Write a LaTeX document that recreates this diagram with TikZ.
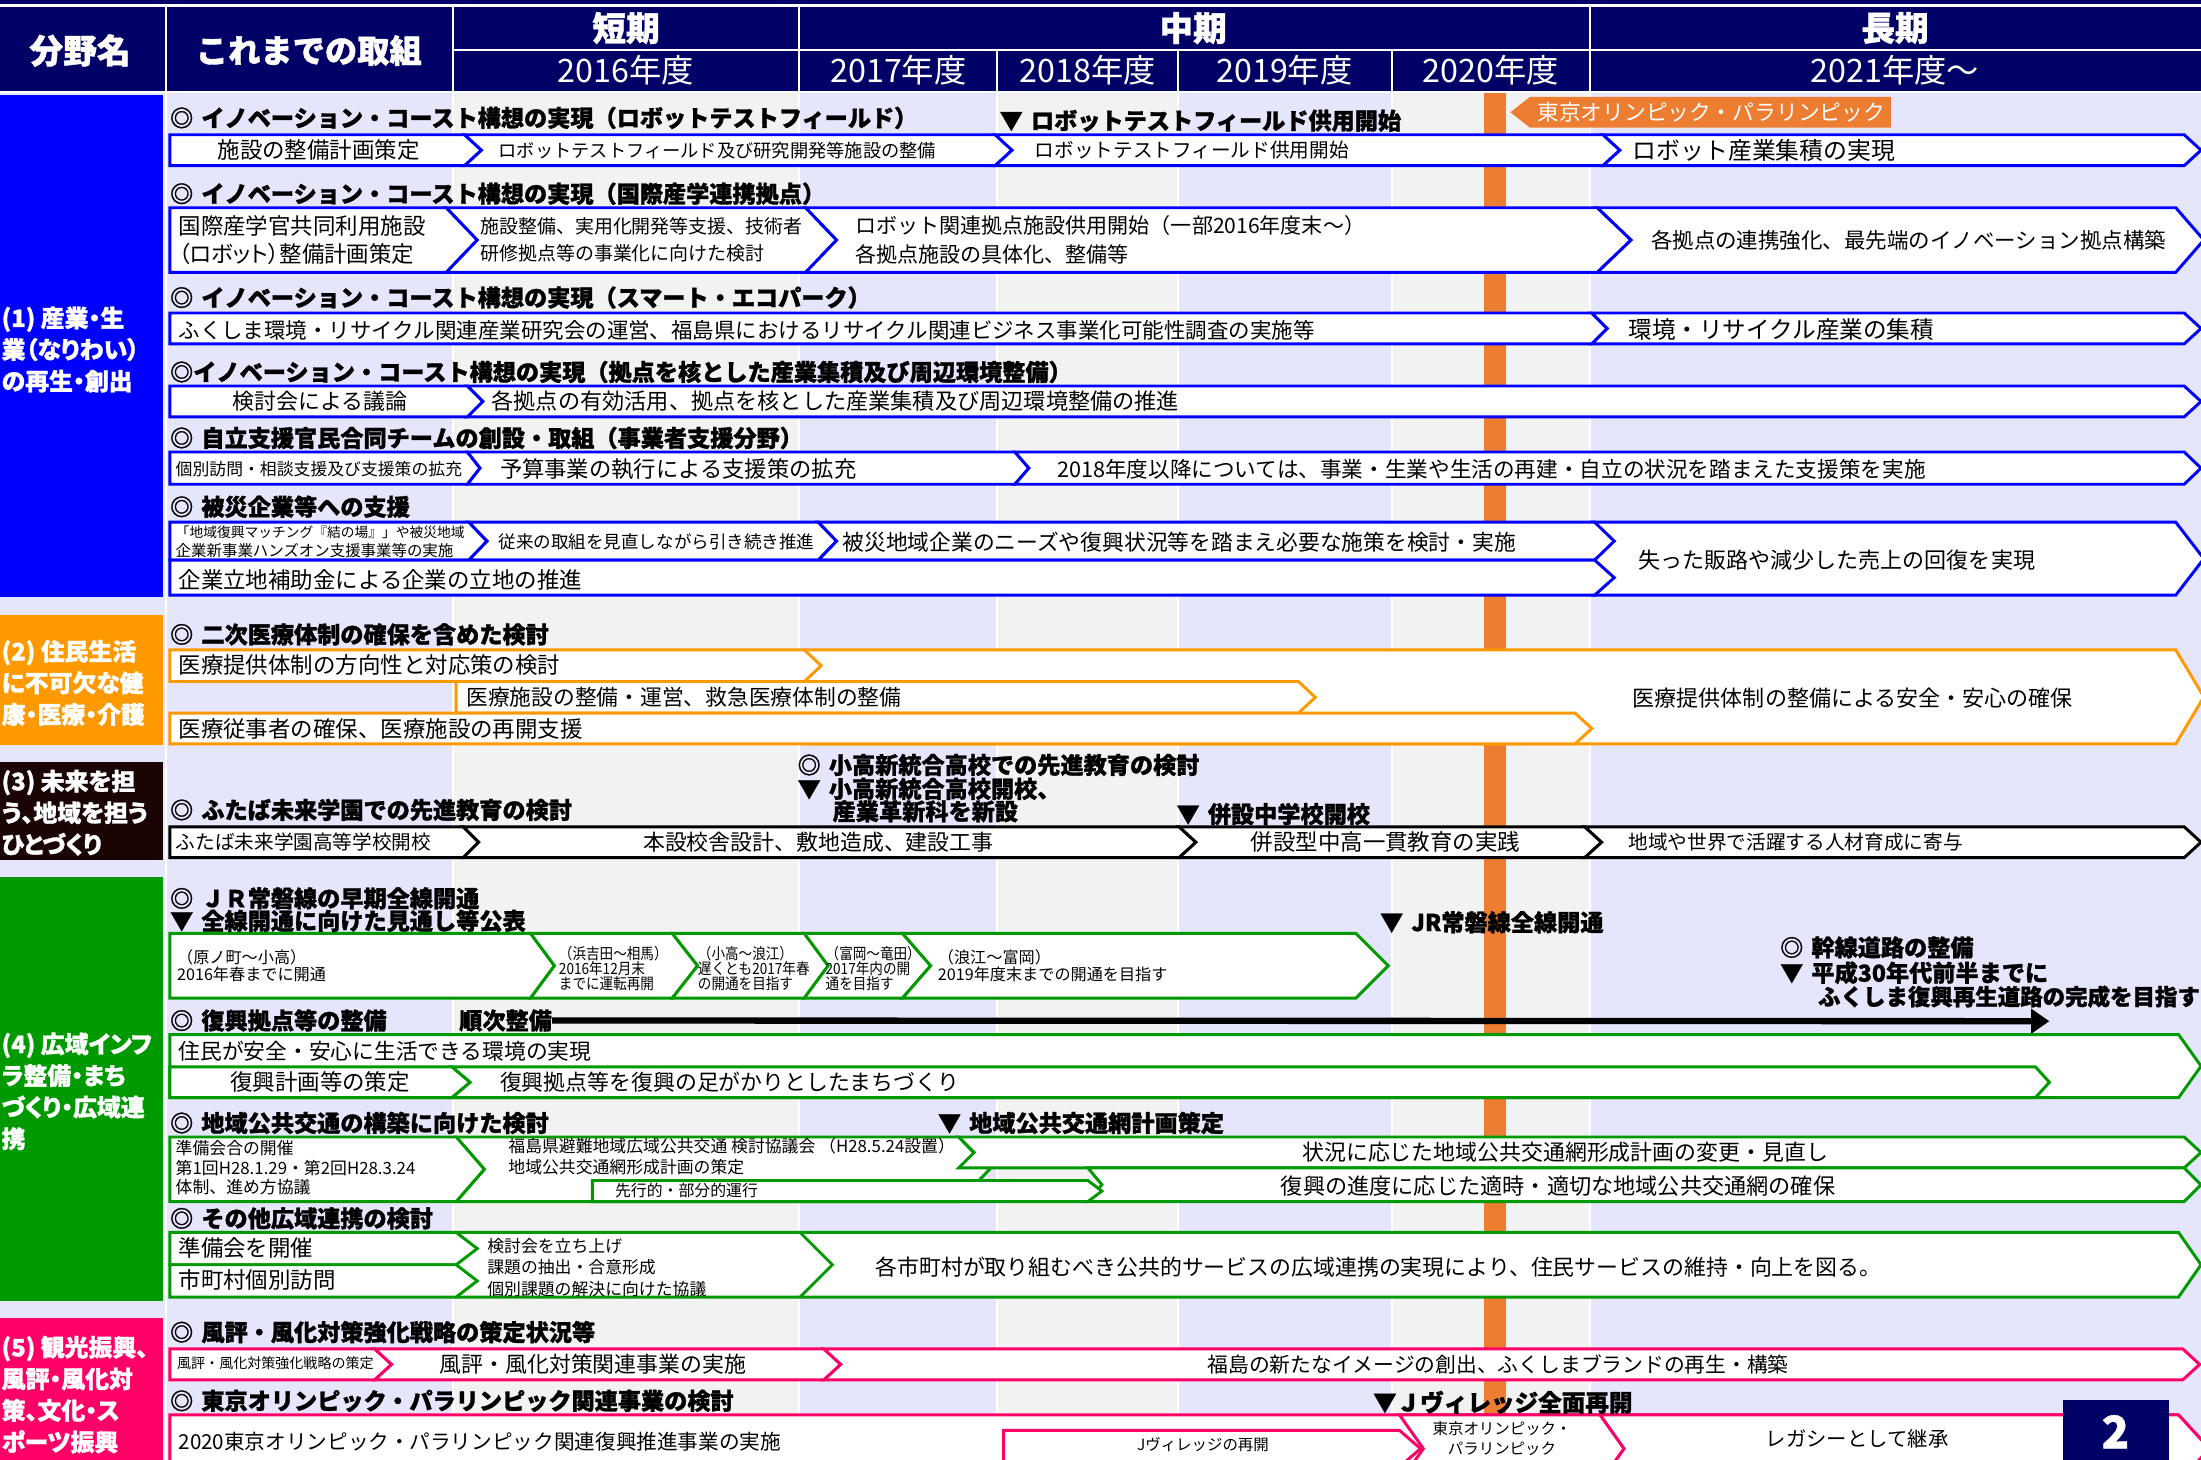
\documentclass[tikz,border=0pt]{standalone}
\usepackage{fontspec}
\setmainfont{Noto Sans CJK JP}[BoldFeatures={FakeBold=1.2}]
\newfontfamily\jpn{Noto Sans CJK JP}[FakeStretch=0.88]
\newfontfamily\jpp{Noto Sans CJK JP}[RawFeature=+palt,BoldFeatures={FakeBold=1.2}]
\usetikzlibrary{arrows.meta}
\definecolor{navy}{RGB}{0,0,102}
\definecolor{lav}{RGB}{229,229,252}
\definecolor{gry}{RGB}{242,242,242}
\definecolor{cblue}{RGB}{0,0,255}
\definecolor{corange}{RGB}{255,153,0}
\definecolor{cdark}{RGB}{26,4,4}
\definecolor{cgreen}{RGB}{0,153,0}
\definecolor{cpink}{RGB}{255,0,102}
\definecolor{olym}{RGB}{237,125,49}
\newcommand\fsz[1]{\fontsize{#1pt}{#1pt}\selectfont}
\newcommand\fszl[2]{\fontsize{#1pt}{#2pt}\selectfont}
\newcommand\dmk{◎\hspace{.35em}}
\newcommand\tmk{▼\hspace{.35em}}
% x0 x1 ytop ybot colour leftdepth rightdepth
\newcommand\chv[7]{\draw[cbox,draw=#5] (#1,#3) -- (#2,#3) -- ({#2+#7},{(#3+#4)/2}) -- (#2,#4) -- (#1,#4) -- ({#1+#6},{(#3+#4)/2}) -- cycle;}
\tikzset{
  cbox/.style={fill=white,line width=2.1pt,line join=miter},
  hd/.style={anchor=west,inner sep=0pt,font=\bfseries\fsz{16.5}},
  tx/.style={anchor=west,inner sep=0pt},
  tc/.style={anchor=center,inner sep=0pt},
  ml/.style={anchor=west,inner sep=0pt,align=left},
  cat/.style={anchor=west,inner sep=0pt,align=left,text=white,font=\jpp\bfseries\fszl{17}{22.5}},
  hw/.style={inner sep=0pt,text=white,font=\bfseries\fsz{24}},
  hy/.style={inner sep=0pt,text=white,font=\fsz{23}},
  sep/.style={white,line width=1.5pt}
}
\begin{document}
\begin{tikzpicture}[x=1pt,y=-1pt]
\useasboundingbox (0,0) rectangle (1568,1040);
\clip (0,0) rectangle (1568,1040);
% body background
\fill[lav] (0,66) rectangle (1568,1040);
\fill[gry] (323,66) rectangle (569,1040);
\fill[gry] (711,66) rectangle (839,1040);
\fill[gry] (992,66) rectangle (1132,1040);
\draw[sep] (118,66)--(118,1040) (322.5,66)--(322.5,1040) (569.5,66)--(569.5,1040) (710.5,66)--(710.5,1040) (839.5,66)--(839.5,1040) (991.5,66)--(991.5,1040) (1132.5,66)--(1132.5,1040);
% header
\fill[navy] (0,0) rectangle (1568,3);
\fill[navy] (0,5) rectangle (1568,65);
\draw[sep] (118.5,5)--(118.5,65) (322.5,5)--(322.5,65) (569.5,5)--(569.5,65) (1132.5,5)--(1132.5,65) (322.5,35.5)--(1568,35.5) (710.5,35.5)--(710.5,65) (839.5,35.5)--(839.5,65) (991.5,35.5)--(991.5,65);
\node[hw] (hA) at (57,36) {分野名};
\node[hw,font=\bfseries\fsz{23}] (hB) at (220,36) {これまでの取組};
\node[hw] (hS) at (446,20) {短期};
\node[hw] (hM) at (850,20) {中期};
\node[hw] (hL) at (1350,20) {長期};
\node[hy] (y16) at (446,50) {2016年度};
\node[hy] (y17) at (640,50) {2017年度};
\node[hy] (y18) at (775,50) {2018年度};
\node[hy] (y19) at (915,50) {2019年度};
\node[hy] (y20) at (1062,50) {2020年度};
\node[hy] (y21) at (1350,50) {2021年度～};
% category blocks
\fill[cblue] (0,68) rectangle (116,425);
\fill[corange] (0,438) rectangle (116,531);
\fill[cdark] (0,543) rectangle (116,613);
\fill[cgreen] (0,625) rectangle (116,927);
\fill[cpink] (0,939) rectangle (116,1040);
\node[cat] (c1) at (1,249) {(1) 産業・生\\業（なりわい）\\の再生・創出};
\node[cat] (c2) at (1,486.5) {(2) 住民生活\\に不可欠な健\\康・医療・介護};
\node[cat] (c3) at (1,579) {(3) 未来を担\\う、地域を担う\\ひとづくり};
\node[cat] (c4) at (1,777.5) {(4) 広域インフ\\ラ整備・まち\\づくり・広域連\\携};
\node[cat] (c5) at (1,993.5) {(5) 観光振興、\\風評・風化対\\策、文化・ス\\ポーツ振興};
% Olympic bar
\fill[olym] (1057,66) rectangle (1073,1040);
% ===== (1) =====
\chv{121}{331}{96}{118}{cblue}{0}{12}
\chv{331}{709}{96}{118}{cblue}{12}{12}
\chv{709}{1142}{96}{118}{cblue}{12}{12}
\chv{1142}{1556}{96}{118}{cblue}{12}{12}
\chv{121}{318}{148}{194}{cblue}{0}{22}
\chv{318}{574}{148}{194}{cblue}{22}{22}
\chv{574}{1138}{148}{194}{cblue}{22}{24}
\chv{1138}{1550}{148}{194}{cblue}{24}{20}
\chv{121}{1134}{223}{245}{cblue}{0}{11}
\chv{1134}{1556}{223}{245}{cblue}{11}{12}
\chv{121}{333}{275}{297}{cblue}{0}{11}
\chv{333}{1556}{275}{297}{cblue}{11}{12}
\chv{121}{333}{322}{345}{cblue}{0}{9}
\chv{333}{723}{322}{345}{cblue}{9}{10}
\chv{723}{1556}{322}{345}{cblue}{10}{12}
\chv{1134}{1550}{372}{424}{cblue}{0}{20}
\chv{121}{334}{372}{399}{cblue}{0}{13}
\chv{334}{583}{372}{399}{cblue}{13}{13}
\chv{583}{1136}{372}{399}{cblue}{13}{14}
\chv{121}{1136}{399}{424}{cblue}{0}{14}
% ===== (2) =====
\chv{573}{1550}{463}{530}{corange}{0}{20}
\chv{121}{573}{463}{485.5}{corange}{0}{12}
\chv{325}{925}{485.5}{508}{corange}{0}{12}
\chv{121}{1122}{508}{530}{corange}{0}{12}
% ===== (3) =====
\chv{121}{330}{589}{611}{black}{0}{11}
\chv{330}{840}{589}{611}{black}{11}{12}
\chv{840}{1129}{589}{611}{black}{12}{12}
\chv{1129}{1556}{589}{611}{black}{12}{12}
% ===== (4) =====
\chv{121}{378}{665}{711}{cgreen}{0}{17}
\chv{378}{479}{665}{711}{cgreen}{17}{18}
\chv{479}{573}{665}{711}{cgreen}{18}{17}
\chv{573}{643}{665}{711}{cgreen}{17}{20}
\chv{643}{966}{665}{711}{cgreen}{20}{23}
\chv{121}{1552}{737}{782}{cgreen}{0}{16}
\chv{121}{322}{760}{782}{cgreen}{0}{13}
\chv{322}{1450}{760}{782}{cgreen}{13}{10}
\chv{325}{683}{810}{856}{cgreen}{20}{22}
\chv{683}{1556}{810}{832}{cgreen}{11}{12}
\chv{775}{1556}{832}{856}{cgreen}{10}{12}
\chv{121}{325}{810}{856}{cgreen}{0}{20}
\chv{422}{775}{841}{856}{cgreen}{0}{10}
\chv{570}{1552}{878}{924}{cgreen}{0}{16}
\chv{325}{570}{878}{924}{cgreen}{0}{23}
\chv{121}{325}{878}{901}{cgreen}{0}{15}
\chv{121}{325}{901}{924}{cgreen}{0}{15}
% ===== (5) =====
\chv{121}{267}{961}{983}{cpink}{0}{12}
\chv{267}{587}{961}{983}{cpink}{12}{12}
\chv{587}{1555}{961}{983}{cpink}{12}{12}
\chv{121}{1552}{1008}{1056}{cpink}{0}{22}
\chv{715}{997}{1019}{1045}{cpink}{0}{15}
\chv{997}{1140}{1008}{1056}{cpink}{17}{17}
\chv{1140}{1552}{1008}{1056}{cpink}{17}{22}
% Olympic label
\fill[olym] (1076,80) -- (1090,69) -- (1347,69) -- (1347,91) -- (1090,91) -- cycle;
\node[tx,text=white,font=\fsz{15.5}] (olyl) at (1095,80) {東京オリンピック・パラリンピック};
% ===== texts (1) =====
\node[hd] (h1) at (121,84) {\dmk イノベーション・コースト構想の実現（ロボットテストフィールド）};
\node[hd] (h2) at (712,86) {\tmk ロボットテストフィールド供用開始};
\node[tc,font=\fsz{16}] (a1) at (227,107) {施設の整備計画策定};
\node[tx,font=\fsz{13}] (a2) at (355,107) {ロボットテストフィールド及び研究開発等施設の整備};
\node[tx,font=\fsz{14}] (a3) at (737,107) {ロボットテストフィールド供用開始};
\node[tx,font=\fsz{17}] (a4) at (1163,107) {ロボット産業集積の実現};
\node[hd] (h3) at (121,138) {\dmk イノベーション・コースト構想の実現（国際産学連携拠点）};
\node[ml,font=\jpp\fszl{16}{20.5}] (b1) at (127,171) {国際産学官共同利用施設\\（ロボット）整備計画策定};
\node[ml,font=\fszl{13.5}{19}] (b2) at (342,171) {施設整備、実用化開発等支援、技術者\\研修拠点等の事業化に向けた検討};
\node[ml,font=\fszl{15}{21}] (b3) at (609,171) {ロボット関連拠点施設供用開始（一部2016年度末～）\\各拠点施設の具体化、整備等};
\node[tx,font=\fsz{15.3}] (b4) at (1176,171) {各拠点の連携強化、最先端のイノベーション拠点構築};
\node[hd] (h4) at (121,212) {\dmk イノベーション・コースト構想の実現（スマート・エコパーク）};
\node[tx,font=\fsz{15.3}] (cc1) at (127,235) {ふくしま環境・リサイクル関連産業研究会の運営、福島県におけるリサイクル関連ビジネス事業化可能性調査の実施等};
\node[tx,font=\fsz{16.8}] (cc2) at (1160,235) {環境・リサイクル産業の集積};
\node[hd] (h5) at (121,265) {◎イノベーション・コースト構想の実現（拠点を核とした産業集積及び周辺環境整備）};
\node[tc,font=\fsz{15.6}] (d1) at (228,286) {検討会による議論};
\node[tx,font=\fsz{15.8}] (d2) at (350,286) {各拠点の有効活用、拠点を核とした産業集積及び周辺環境整備の推進};
\node[hd] (h6) at (121,312) {\dmk 自立支援官民合同チームの創設・取組（事業者支援分野）};
\node[tx,font=\fsz{12}] (e1) at (125,334) {個別訪問・相談支援及び支援策の拡充};
\node[tx,font=\fsz{15.9}] (e2) at (356,334) {予算事業の執行による支援策の拡充};
\node[tx,font=\fsz{15.4}] (e3) at (753,334) {2018年度以降については、事業・生業や生活の再建・自立の状況を踏まえた支援策を実施};
\node[hd] (h7) at (121,361) {\dmk 被災企業等への支援};
\node[ml,font=\fszl{9.8}{13}] (f1) at (125,386) {「地域復興マッチング『結の場』」や被災地域\\{\fsz{11}企業新事業ハンズオン支援事業等の実施}};
\node[tx,font=\fsz{12.5}] (f2) at (355,386) {従来の取組を見直しながら引き続き推進};
\node[tx,font=\fsz{15.5}] (f3) at (600,386) {被災地域企業のニーズや復興状況等を踏まえ必要な施策を検討・実施};
\node[tx,font=\fsz{16}] (f4) at (127,413) {企業立地補助金による企業の立地の推進};
\node[tx,font=\fsz{15.7}] (f5) at (1167,399) {失った販路や減少した売上の回復を実現};
% ===== texts (2) =====
\node[hd] (h8) at (121,452) {\dmk 二次医療体制の確保を含めた検討};
\node[tx,font=\fsz{16}] (g1) at (127,474) {医療提供体制の方向性と対応策の検討};
\node[tx,font=\fsz{15.5}] (g2) at (332,497) {医療施設の整備・運営、救急医療体制の整備};
\node[tx,font=\fsz{16}] (g3) at (127,519) {医療従事者の確保、医療施設の再開支援};
\node[tx,font=\fsz{15.7}] (g4) at (1163,497) {医療提供体制の整備による安全・安心の確保};
% ===== texts (3) =====
\node[hd] (h9) at (568,545) {\dmk 小高新統合高校での先進教育の検討};
\node[hd] (h10) at (568,562) {\tmk 小高新統合高校開校、};
\node[hd] (h11) at (593,578) {産業革新科を新設};
\node[hd] (h12) at (121,577) {\dmk ふたば未来学園での先進教育の検討};
\node[hd] (h13) at (838,580) {\tmk 併設中学校開校};
\node[tx,font=\fsz{14}] (i1) at (125,600) {ふたば未来学園高等学校開校};
\node[tc,font=\fsz{15.6}] (i2) at (583,600) {本設校舎設計、敷地造成、建設工事};
\node[tc,font=\fsz{16}] (i3) at (987,600) {併設型中高一貫教育の実践};
\node[tx,font=\fsz{14}] (i4) at (1160,600) {地域や世界で活躍する人材育成に寄与};
% ===== texts (4) =====
\node[hd] (h14) at (121,640) {\dmk ＪＲ常磐線の早期全線開通};
\node[hd] (h15) at (121,656) {\tmk 全線開通に向けた見通し等公表};
\node[hd] (h16) at (983,657) {\tmk JR常磐線全線開通};
\node[hd] (h17) at (1268,675) {\dmk 幹線道路の整備};
\node[hd] (h18) at (1268,693) {\tmk 平成30年代前半までに};
\node[hd,font=\bfseries\fsz{16}] (h19) at (1295,710) {ふくしま復興再生道路の完成を目指す};
\node[ml,font=\fszl{11.5}{11.5}] (j1) at (126,688) {（原ノ町～小高）\\2016年春までに開通};
\node[ml,font=\jpn\fszl{11}{11}] (j2) at (398,690) {（浜吉田～相馬）\\2016年12月末\\までに運転再開};
\node[ml,font=\jpn\fszl{11}{11}] (j3) at (497,690) {（小高～浪江）\\遅くとも2017年春\\の開通を目指す};
\node[ml,font=\jpn\fszl{11}{11}] (j4) at (588,690) {（富岡～竜田）\\2017年内の開\\通を目指す};
\node[ml,font=\fszl{11.5}{11.5}] (j5) at (668,688) {（浪江～富岡）\\2019年度末までの開通を目指す};
\node[hd] (h20) at (121,727) {\dmk 復興拠点等の整備};
\node[hd] (h21) at (327,727) {順次整備};
\coordinate (arrEnd) at (1460,727.5);
\draw[line width=4.5pt,-{Triangle[length=13pt,width=17pt]}] (h21.east) -- (arrEnd);
\node[tx,font=\fsz{15.5}] (k1) at (127,749) {住民が安全・安心に生活できる環境の実現};
\node[tc,font=\fsz{16}] (k2) at (228,771) {復興計画等の策定};
\node[tx,font=\fsz{15.6}] (k3) at (356,771) {復興拠点等を復興の足がかりとしたまちづくり};
\node[hd] (h22) at (121,800) {\dmk 地域公共交通の構築に向けた検討};
\node[hd] (h23) at (668,800) {\tmk 地域公共交通網計画策定};
\node[ml,font=\fszl{12}{14}] (l1) at (125,832) {準備会合の開催\\第1回H28.1.29・第2回H28.3.24\\体制、進め方協議};
\node[ml,font=\fszl{12}{15}] (l2) at (362,824) {福島県避難地域広域公共交通 検討協議会 （H28.5.24設置）\\地域公共交通網形成計画の策定};
\node[tx,font=\fsz{11.3}] (l3) at (438,848) {先行的・部分的運行};
\node[tc,font=\fsz{15.6}] (l4) at (1115,821) {状況に応じた地域公共交通網形成計画の変更・見直し};
\node[tc,font=\fsz{15.8}] (l5) at (1110,845) {復興の進度に応じた適時・適切な地域公共交通網の確保};
\node[hd] (h24) at (121,868) {\dmk その他広域連携の検討};
\node[tx,font=\fsz{16}] (m1) at (127,889) {準備会を開催};
\node[tx,font=\fsz{16}] (m2) at (127,912) {市町村個別訪問};
\node[ml,font=\fszl{12}{15.5}] (m3) at (347,903) {検討会を立ち上げ\\課題の抽出・合意形成\\個別課題の解決に向けた協議};
\node[tc,font=\fsz{15.6}] (m4) at (982,903) {各市町村が取り組むべき公共的サービスの広域連携の実現により、住民サービスの維持・向上を図る。};
% ===== texts (5) =====
\node[hd] (h25) at (121,949) {\dmk 風評・風化対策強化戦略の策定状況等};
\node[tx,font=\fsz{10}] (n1) at (126,971) {風評・風化対策強化戦略の策定};
\node[tx,font=\fsz{15.6}] (n2) at (313,972) {風評・風化対策関連事業の実施};
\node[tx,font=\fsz{14.8}] (n3) at (860,972) {福島の新たなイメージの創出、ふくしまブランドの再生・構築};
\node[hd] (h26) at (121,998) {\dmk 東京オリンピック・パラリンピック関連事業の検討};
\node[hd,font=\bfseries\fsz{16.8}] (h27) at (978,999) {▼Ｊヴィレッジ全面再開};
\node[tx,font=\fsz{14.7}] (o1) at (127,1027) {2020東京オリンピック・パラリンピック関連復興推進事業の実施};
\node[tc,font=\fsz{11}] (o2) at (857,1029) {Jヴィレッジの再開};
\node[tc,align=center,font=\fszl{11}{14}] (o3) at (1070,1025) {東京オリンピック・\\パラリンピック};
\node[tc,font=\fsz{14.5}] (o4) at (1323,1025) {レガシーとして継承};
% page number
\fill[navy] (1470,997) rectangle (1545,1040);
\node[tc,text=white,font=\bfseries\fsz{32}] (pg) at (1507,1020) {2};
\end{tikzpicture}
\end{document}
